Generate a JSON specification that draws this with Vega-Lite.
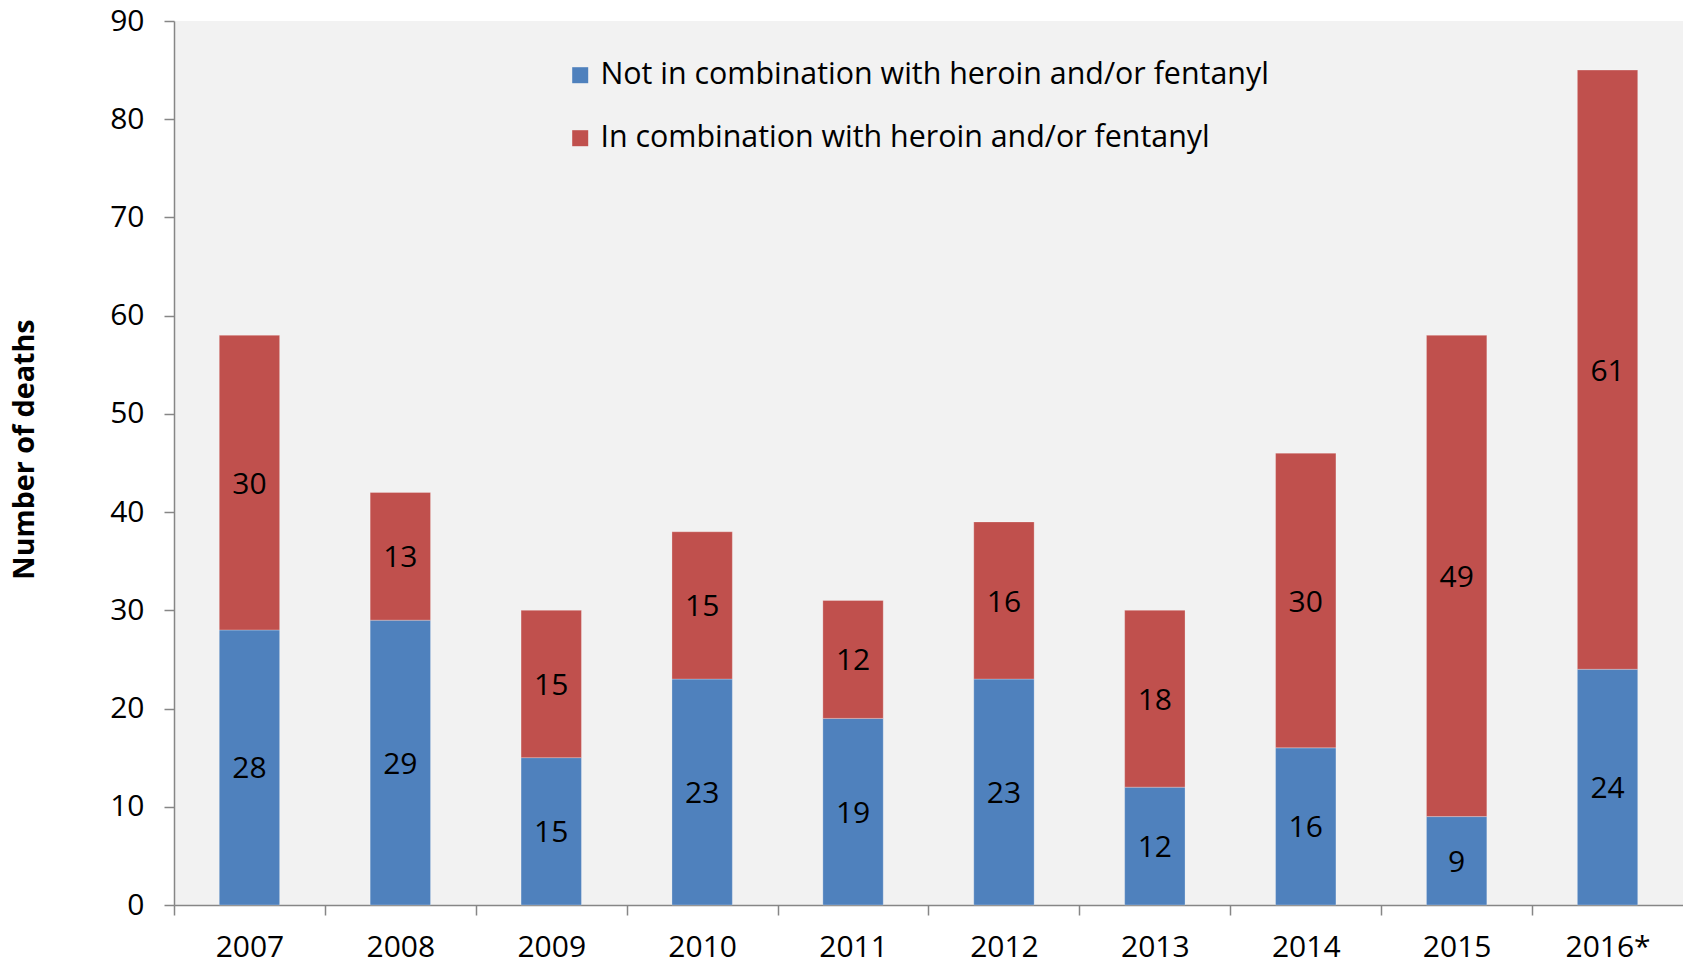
{
  "$schema": "https://vega.github.io/schema/vega-lite/v6.json",
  "width": 1509,
  "height": 884,
  "autosize": "none",
  "padding": {"left": 174, "top": 21, "right": 0, "bottom": 59},
  "background": "white",
  "config": {
    "view": {"fill": "#f2f2f2", "stroke": null},
    "font": "Open Sans"
  },
  "data": {
    "values": [
      {"year": "2007", "series": "Not in combination with heroin and/or fentanyl", "ord": 1, "deaths": 28},
      {"year": "2007", "series": "In combination with heroin and/or fentanyl", "ord": 2, "deaths": 30},
      {"year": "2008", "series": "Not in combination with heroin and/or fentanyl", "ord": 1, "deaths": 29},
      {"year": "2008", "series": "In combination with heroin and/or fentanyl", "ord": 2, "deaths": 13},
      {"year": "2009", "series": "Not in combination with heroin and/or fentanyl", "ord": 1, "deaths": 15},
      {"year": "2009", "series": "In combination with heroin and/or fentanyl", "ord": 2, "deaths": 15},
      {"year": "2010", "series": "Not in combination with heroin and/or fentanyl", "ord": 1, "deaths": 23},
      {"year": "2010", "series": "In combination with heroin and/or fentanyl", "ord": 2, "deaths": 15},
      {"year": "2011", "series": "Not in combination with heroin and/or fentanyl", "ord": 1, "deaths": 19},
      {"year": "2011", "series": "In combination with heroin and/or fentanyl", "ord": 2, "deaths": 12},
      {"year": "2012", "series": "Not in combination with heroin and/or fentanyl", "ord": 1, "deaths": 23},
      {"year": "2012", "series": "In combination with heroin and/or fentanyl", "ord": 2, "deaths": 16},
      {"year": "2013", "series": "Not in combination with heroin and/or fentanyl", "ord": 1, "deaths": 12},
      {"year": "2013", "series": "In combination with heroin and/or fentanyl", "ord": 2, "deaths": 18},
      {"year": "2014", "series": "Not in combination with heroin and/or fentanyl", "ord": 1, "deaths": 16},
      {"year": "2014", "series": "In combination with heroin and/or fentanyl", "ord": 2, "deaths": 30},
      {"year": "2015", "series": "Not in combination with heroin and/or fentanyl", "ord": 1, "deaths": 9},
      {"year": "2015", "series": "In combination with heroin and/or fentanyl", "ord": 2, "deaths": 49},
      {"year": "2016*", "series": "Not in combination with heroin and/or fentanyl", "ord": 1, "deaths": 24},
      {"year": "2016*", "series": "In combination with heroin and/or fentanyl", "ord": 2, "deaths": 61}
    ]
  },
  "encoding": {
    "x": {
      "field": "year",
      "type": "nominal",
      "sort": null,
      "scale": {"paddingInner": 0.6, "paddingOuter": 0.3},
      "axis": {
        "title": null,
        "labelAngle": 0,
        "labelFontSize": 30,
        "labelColor": "#000000",
        "labelPadding": 17,
        "tickOffset": -75.45,
        "labelOffset": 75.45,
        "tickSize": 10,
        "tickColor": "#868686",
        "tickWidth": 1.5,
        "domainColor": "#868686",
        "domainWidth": 1.5
      }
    },
    "y": {
      "field": "deaths",
      "type": "quantitative",
      "stack": "zero",
      "scale": {"domain": [0, 90], "nice": false},
      "axis": {
        "title": "Number of deaths",
        "titleFontSize": 28.7,
        "titleFontWeight": "bold",
        "titleColor": "#000000",
        "titleAngle": -90,
        "titleAlign": "center",
        "titleBaseline": "middle",
        "titleX": -150,
        "titleY": 428,
        "values": [0, 10, 20, 30, 40, 50, 60, 70, 80, 90],
        "grid": false,
        "labelFontSize": 30,
        "labelColor": "#000000",
        "labelPadding": 20,
        "tickSize": 10,
        "tickColor": "#868686",
        "tickWidth": 1.5,
        "domainColor": "#868686",
        "domainWidth": 1.5
      }
    },
    "order": {"field": "ord", "type": "quantitative", "sort": "ascending"}
  },
  "layer": [
    {
      "mark": {"type": "bar", "stroke": "#ffffff", "strokeOpacity": 0.25, "strokeWidth": 1},
      "encoding": {
        "color": {
          "field": "series",
          "type": "nominal",
          "scale": {
            "domain": ["Not in combination with heroin and/or fentanyl", "In combination with heroin and/or fentanyl"],
            "range": ["#4f81bd", "#c0504d"]
          },
          "legend": {
            "title": null,
            "orient": "none",
            "legendX": 391,
            "legendY": 39,
            "symbolType": "square",
            "symbolSize": 256,
            "symbolStrokeWidth": 0,
            "labelFontSize": 30.4,
            "labelColor": "#000000",
            "labelOffset": 5,
            "rowPadding": 32,
            "padding": 0,
            "labelLimit": 900
          }
        }
      }
    },
    {
      "mark": {"type": "text", "fontSize": 30, "color": "#000000", "baseline": "middle", "align": "center", "dy": 2},
      "encoding": {
        "y": {"field": "deaths", "type": "quantitative", "stack": "zero", "bandPosition": 0.5},
        "text": {"field": "deaths", "type": "quantitative"}
      }
    }
  ]
}
